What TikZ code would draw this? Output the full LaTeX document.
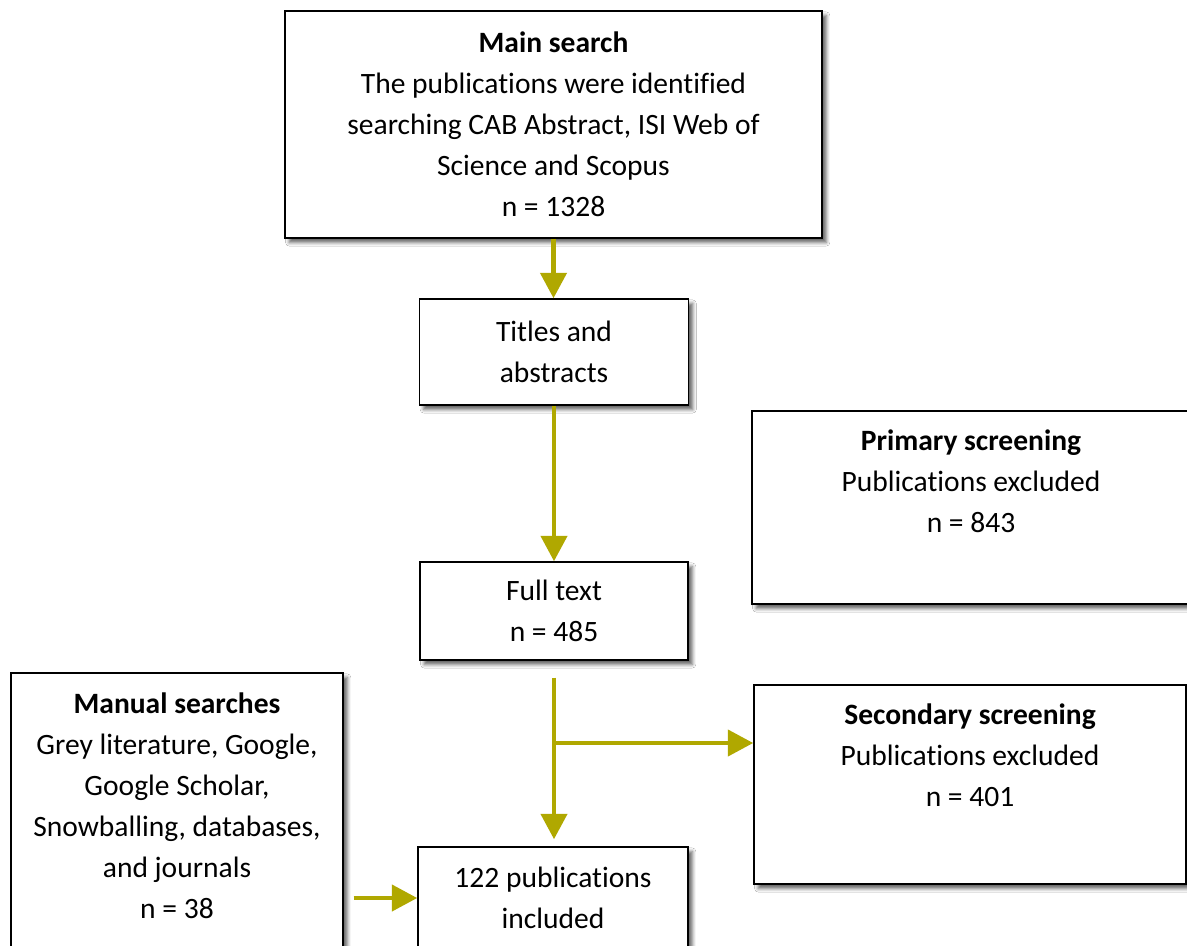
\documentclass[tikz,border=0pt]{standalone}
\usepackage{fontspec}
\setmainfont{Carlito}[Ligatures=NoCommon]
\usetikzlibrary{arrows.meta,shadows.blur}
\definecolor{olivearrow}{RGB}{176,168,0}

\begin{document}
\begin{tikzpicture}[x=0.025cm, y=-0.025cm,
        stagebox/.style={draw=black, line width=1.1pt, fill=white, align=center, inner sep=0pt,
            font=\fontsize{21}{29.2}\selectfont,
            blur shadow={shadow xshift=3pt, shadow yshift=-3.2pt, shadow blur radius=2.5pt, shadow opacity=60}},
        stagetext/.style={align=center, font=\fontsize{21}{29.2}\selectfont},
        flowarrow/.style={draw=olivearrow, line width=2.9pt, -{Triangle[width=18.5pt,length=18pt]}}]
            \useasboundingbox (0,0) rectangle (1187,945);
            \fill[white] (0,0) rectangle (1187,945);

            % boxes
            \node[stagebox, minimum width=13.425cm, minimum height=5.675cm] (main) at (553.5,124.5)
                {\textbf{Main search}\\The publications were identified\\searching CAB Abstract, ISI Web of\\Science and Scopus\\n = 1328};
            \node[stagebox, minimum width=6.725cm, minimum height=2.65cm] (titles) at (554,352) {Titles and\\abstracts};
            \node[stagebox, minimum width=10.95cm, minimum height=4.825cm] (prim) at (971,507.5) {};
            \node[stagetext] (primtext) at (971,481) {\textbf{Primary screening}\\Publications excluded\\n = 843};
            \node[stagebox, minimum width=6.7cm, minimum height=2.45cm] (full) at (554,611) {Full text\\n = 485};
            \node[stagebox, minimum width=8.3cm, minimum height=7.175cm] (manual) at (177,816.5) {};
            \node[stagetext] (manualtext) at (177,806)
                {\textbf{Manual searches}\\Grey literature, Google,\\Google Scholar,\\Snowballing, databases,\\and journals\\n = 38};
            \node[stagebox, minimum width=10.8cm, minimum height=4.975cm] (sec) at (970,784.5) {};
            \node[stagetext] (sectext) at (970,755) {\textbf{Secondary screening}\\Publications excluded\\n = 401};
            \node[stagebox, minimum width=6.75cm, minimum height=2.55cm] (incl) at (553,898) {122 publications\\included};

            % arrows
            \coordinate (split) at (553,743);
            \draw[flowarrow] (main.south) -- (main.south |- titles.north);
            \draw[flowarrow] (titles.south) -- (titles.south |- full.north);
            \draw[flowarrow, shorten <=12pt, shorten >=5pt] (full.south) -- (full.south |- incl.north);
            \draw[flowarrow] (split) -- (split -| sec.west);
            \draw[flowarrow, shorten <=7pt] (manual.east |- incl.west) -- (incl.west);
        \end{tikzpicture}
\end{document}
